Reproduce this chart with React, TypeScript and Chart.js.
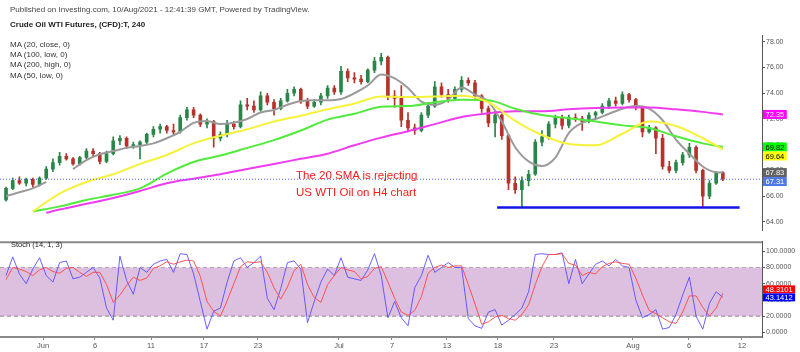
import React, { useEffect, useRef } from "react";
import { Chart, registerables } from "chart.js";

Chart.register(...registerables);

// ---------- DATA ----------
// 4H-style candles, index 0 .. 107
const opens = [
  65.7, 66.6, 67.2, 67.0, 67.3, 66.9, 67.4, 68.1, 68.6, 69.1,
  68.9, 68.5, 69.0, 69.5, 69.3, 68.7, 69.3, 70.3, 70.5, 69.9,
  70.0, 70.2, 70.8, 71.2, 71.4, 71.1, 71.0, 72.1, 72.7, 72.3,
  71.6, 71.8, 70.5, 70.8, 71.6, 71.4, 73.1, 73.0, 72.7, 73.8,
  73.3, 72.8, 73.4, 74.0, 74.3, 73.4, 73.0, 73.3, 73.8, 74.4,
  74.1, 75.7, 75.2, 75.1, 74.9, 75.8, 76.5, 76.8, 73.8, 73.6,
  71.9, 71.3, 71.1, 72.3, 73.0, 74.5, 73.9, 73.6, 74.3, 75.0,
  74.8, 73.8, 72.8, 71.7, 72.3, 70.7, 67.0, 66.5, 67.2, 67.7,
  70.2, 70.6, 71.6, 72.1, 71.5, 72.1, 72.0, 71.8, 72.3, 72.5,
  73.0, 73.4, 73.2, 73.9, 73.5, 72.9, 71.0, 71.3, 70.5, 68.3,
  68.0, 68.6, 69.2, 69.8, 68.0, 66.0, 67.0, 67.8,
];
const highs = [
  66.7, 67.4, 67.5, 67.4, 67.4, 67.5, 68.3, 68.9, 69.4, 69.3,
  69.0, 69.1, 69.7, 69.7, 69.4, 69.5, 70.6, 70.7, 70.6, 70.2,
  70.3, 70.9, 71.4, 71.6, 71.5, 71.6, 72.3, 72.9, 72.9, 72.4,
  72.0, 71.9, 71.0, 71.9, 71.8, 73.4, 73.6, 73.4, 74.1, 74.0,
  73.5, 73.6, 74.3, 74.5, 74.4, 73.6, 73.5, 74.0, 74.6, 74.6,
  76.1, 75.9, 75.6, 75.4, 75.9, 76.8, 77.1, 76.9, 74.2, 74.6,
  72.5, 71.6, 72.5, 73.3, 74.9, 74.8, 74.3, 74.5, 75.3, 75.2,
  75.0, 73.9, 73.0, 72.6, 72.4, 70.8, 67.5, 67.5, 68.0, 70.4,
  71.1, 71.8, 72.3, 72.3, 72.3, 72.4, 72.2, 72.5, 72.6, 73.2,
  73.6, 73.7, 74.1, 74.0, 73.6, 73.0, 71.5, 71.4, 70.8, 68.7,
  68.8, 69.4, 70.1, 69.9, 68.1, 67.2, 67.9, 67.9,
];
const lows = [
  65.6, 66.5, 66.9, 66.8, 66.7, 66.8, 67.3, 67.9, 68.4, 68.8,
  68.4, 68.4, 68.9, 69.1, 68.5, 68.6, 69.2, 70.0, 69.7, 69.7,
  68.9, 70.0, 70.6, 70.9, 70.9, 70.8, 70.9, 71.9, 72.1, 71.4,
  71.3, 69.8, 70.3, 70.6, 71.2, 71.3, 72.7, 72.5, 72.6, 73.1,
  72.3, 72.7, 73.3, 73.8, 73.2, 72.8, 72.9, 73.1, 73.6, 73.9,
  73.9, 74.9, 74.8, 74.7, 74.8, 75.6, 76.2, 73.5, 72.9, 71.4,
  71.0, 70.8, 71.0, 72.1, 72.9, 73.7, 73.3, 73.5, 74.1, 74.6,
  73.6, 72.5, 71.4, 70.6, 70.4, 66.5, 66.2, 65.1, 66.8, 67.6,
  69.9, 70.4, 71.3, 71.2, 71.3, 71.8, 71.1, 71.7, 72.0, 72.4,
  72.8, 73.0, 73.1, 73.3, 72.7, 70.6, 70.9, 69.3, 68.1, 67.8,
  67.8, 68.4, 69.0, 67.8, 65.2, 65.8, 66.9, 67.2,
];
const closes = [
  66.6, 67.2, 67.0, 67.3, 66.9, 67.4, 68.1, 68.6, 69.1, 68.9,
  68.5, 69.0, 69.5, 69.3, 68.7, 69.3, 70.3, 70.5, 69.9, 70.0,
  70.2, 70.8, 71.2, 71.4, 71.1, 71.0, 72.1, 72.7, 72.3, 71.6,
  71.8, 70.5, 70.8, 71.6, 71.4, 73.1, 73.0, 72.7, 73.8, 73.3,
  72.8, 73.4, 74.0, 74.3, 73.4, 73.0, 73.3, 73.8, 74.4, 74.1,
  75.7, 75.2, 75.1, 74.9, 75.8, 76.5, 76.8, 73.8, 73.6, 71.9,
  71.3, 71.1, 72.3, 73.0, 74.5, 73.9, 73.6, 74.3, 75.0, 74.8,
  73.8, 72.8, 71.7, 72.3, 70.7, 67.0, 66.5, 67.2, 67.7, 70.2,
  70.6, 71.6, 72.1, 71.5, 72.1, 72.0, 71.8, 72.3, 72.5, 73.0,
  73.4, 73.2, 73.9, 73.5, 72.9, 71.0, 71.3, 70.5, 68.3, 68.0,
  68.6, 69.2, 69.8, 68.0, 66.0, 67.0, 67.8, 67.31,
];

// MA (20, close) sampled every second candle (null = gap in the line)
const ma20Idx = [
  0, 2, 4, 6, 8, 10, 12, 14, 16, 18, 20, 22, 24, 26, 28, 30, 32, 34, 36, 38,
  40, 42, 44, 46, 48, 50, 52, 54, 56, 58, 60, 62, 64, 66, 68, 70, 72, 74, 76, 78,
  80, 82, 84, 86, 88, 90, 92, 94, 96, 98, 100, 102, 104, 106, 107,
];
const ma20Close = [
  66.0, 66.3, 66.6, 67.1, null, 68.1, 68.8, 69.25, 69.5, 69.75,
  69.9, 70.1, 70.5, 71.0, 71.7, 71.85, 71.6, 71.7, 72.0, 72.5,
  72.7, 73.1, 73.4, 73.45, 73.45, 73.55, 74.0, 74.6, 75.45, 75.15,
  74.4, 73.35, 73.1, 73.5, 74.45, 73.9, 73.35, 71.8, 69.8, 68.7,
  68.35, 69.0, 70.9, 71.7, 72.0, 72.4, 72.8, 73.0, 72.8, 71.9,
  70.4, 69.3, 68.3, 67.85, 67.83,
];

// Slower MAs sampled every fourth candle
const slowIdx = [
  4, 8, 12, 16, 20, 24, 28, 32, 36, 40, 44, 48, 52, 56, 60, 64, 68, 72, 76, 80,
  84, 88, 92, 96, 100, 104, 107,
];
const ma50Low = [
  64.8, 66.2, 67.1, 67.7, 68.5, 69.2, 70.1, 70.7, 71.2, 71.8,
  72.25, 72.75, 73.2, 73.75, 73.7, 73.75, 73.8, 73.3, 71.85, 70.75,
  70.05, 69.95, 70.85, 71.8, 71.45, 70.5, 69.64,
];
const ma100Low = [
  64.8, 65.2, 65.7, 66.1, 66.6, 67.75, 68.65, 69.15, 69.75, 70.35,
  71.1, 71.95, 72.4, 72.95, 73.0, 73.3, 73.5, 73.45, 72.8, 72.3,
  72.05, 71.8, 71.5, 71.3, 70.65, 70.1, 69.82,
];
const ma200Idx = [
  6, 8, 12, 16, 20, 24, 28, 32, 36, 40, 44, 48, 52, 56, 60, 64, 68, 72, 76, 80,
  84, 88, 92, 96, 100, 104, 107,
];
const ma200High = [
  64.7, 64.95, 65.4, 65.85, 66.4, 67.0, 67.35, 67.7, 68.1, 68.5,
  68.9, 69.3, 69.95, 70.55, 71.05, 71.6, 72.15, 72.45, 72.6, 72.6,
  72.75, 72.85, 72.9, 72.9, 72.75, 72.55, 72.35,
];

// Support level drawn on the chart
const supportLevel = 65.12;
const supportFrom = 73.3;
const supportTo = 109.5;

// Stochastic (14, 1, 3), one value per candle
const stochK = [
  70, 93, 72, 60, 78, 92, 70, 62, 86, 88,
  66, 68, 74, 80, 67, 30, 15, 94, 64, 47,
  80, 74, 84, 88, 90, 74, 97, 96, 72, 38,
  4, 26, 30, 62, 88, 92, 80, 86, 94, 42,
  28, 54, 86, 88, 78, 12, 38, 62, 78, 70,
  92, 68, 66, 64, 77, 97, 70, 18, 38, 18,
  8, 55, 70, 95, 74, 80, 86, 80, 80, 17,
  8, 5, 25, 28, 9, 15, 22, 30, 50, 96,
  97, 96, 96, 98, 60, 90, 60, 72, 84, 88,
  82, 90, 82, 80, 40, 18, 22, 28, 4, 6,
  22, 46, 68, 20, 4, 36, 50, 43.1412,
];
const stochD = [
  65, 80, 78, 75, 70, 77, 80, 75, 73, 79,
  80, 74, 69, 74, 74, 59, 37, 46, 58, 68,
  64, 67, 79, 82, 87, 84, 87, 89, 88, 69,
  38, 26, 20, 39, 60, 81, 87, 86, 87, 74,
  55, 41, 56, 76, 84, 59, 43, 37, 59, 70,
  80, 77, 75, 66, 69, 79, 81, 62, 42, 25,
  21, 27, 44, 73, 80, 83, 80, 82, 82, 59,
  35, 10, 13, 19, 21, 17, 15, 22, 34, 59,
  81, 96, 96, 97, 85, 83, 70, 74, 72, 81,
  85, 87, 85, 84, 67, 46, 27, 23, 18, 13,
  11, 25, 45, 45, 31, 20, 30, 48.3101,
];

// Axis ticks
const priceTicks = [64, 66, 68, 70, 72, 74, 76, 78];
const stochTicks = [0, 20, 40, 60, 80, 100];
const stochBands = [80, 20];
const dateTickLabels = ["Jun", "6", "11", "17", "23", "Jul", "7", "13", "18", "23", "Aug", "6", "12"];
const dateTickPos = [5.52, 13.28, 21.64, 29.55, 37.61, 49.7, 57.61, 65.82, 73.43, 81.79, 93.58, 101.94, 109.85];

// ---------- STYLE / LAYOUT ----------
const FONT = "'Liberation Sans', Arial, Helvetica, sans-serif";
const X_MIN = -0.9;
const X_MAX = 112.84;
const AXIS_W = 38;
const UP = "#2a8548";
const DOWN = "#b5332b";
const C_MA20 = "#9a9a9a";
const C_MA50 = "#f6f23a";
const C_MA100 = "#52ea3c";
const C_MA200 = "#ef3cef";

const last = (a: any[]) => a[a.length - 1];

const tagsPlugin = {
  id: "tags",
  afterDraw(chart: any, _args: any, opts: any) {
    const tags = (opts && opts.tags) || [];
    if (!tags.length) return;
    const ctx = chart.ctx;
    const ys = chart.scales.y;
    const left = chart.chartArea.right;
    const h = opts.height || 9;
    const items = tags.map((t: any) => ({ ...t, y: ys.getPixelForValue(t.value) }));
    items.sort((a: any, b: any) => a.y - b.y);
    if (opts.push === "up") {
      for (let i = items.length - 2; i >= 0; i--) {
        if (items[i].y > items[i + 1].y - h) items[i].y = items[i + 1].y - h;
      }
    } else {
      for (let i = 1; i < items.length; i++) {
        if (items[i].y < items[i - 1].y + h) items[i].y = items[i - 1].y + h;
      }
    }
    ctx.save();
    ctx.font = `7.5px ${FONT}`;
    ctx.textBaseline = "middle";
    ctx.textAlign = "left";
    for (const it of items) {
      const w = ctx.measureText(it.text).width + 5;
      ctx.fillStyle = it.bg;
      ctx.fillRect(left + 1, it.y - h / 2, w, h);
      ctx.fillStyle = it.fg;
      ctx.fillText(it.text, left + 3.5, it.y + 0.5);
    }
    ctx.restore();
  },
};

const panelTopPlugin = {
  id: "panelTop",
  afterDraw(chart: any) {
    const { ctx, chartArea } = chart;
    ctx.save();
    ctx.strokeStyle = "#8a8a8a";
    ctx.lineWidth = 2;
    ctx.beginPath();
    ctx.moveTo(0, chartArea.top + 1);
    ctx.lineTo(chartArea.right, chartArea.top + 1);
    ctx.stroke();
    ctx.restore();
  },
};

function yAxis(min: number, max: number, ticks: number[], digits: number) {
  return {
    type: "linear",
    position: "right",
    min,
    max,
    afterBuildTicks: (s: any) => {
      s.ticks = ticks.map((v) => ({ value: v }));
    },
    afterFit: (s: any) => {
      s.width = AXIS_W;
    },
    ticks: {
      callback: (v: any) => Number(v).toFixed(digits),
      font: { size: 7, family: FONT },
      color: "#555",
      padding: 1,
    },
    grid: { drawOnChartArea: false, drawTicks: true, tickLength: 3, color: "#555" },
    border: { display: true, color: "#555", width: 1 },
  };
}

function lineDs(idx: number[], vals: (number | null)[], color: string, width: number) {
  return {
    type: "line",
    data: idx.map((x, i) => ({ x, y: vals[i] })),
    borderColor: color,
    borderWidth: width,
    pointRadius: 0,
    fill: false,
    cubicInterpolationMode: "monotone",
    spanGaps: false,
    order: 1,
  };
}

export default function App() {
  const priceRef = useRef<HTMLCanvasElement>(null);
  const stochRef = useRef<HTMLCanvasElement>(null);

  useEffect(() => {
    const n = closes.length;
    const ix = Array.from({ length: n }, (_, i) => i);
    const colors = ix.map((i) => (closes[i] >= opens[i] ? UP : DOWN));

    const priceChart = new Chart(priceRef.current as HTMLCanvasElement, {
      type: "line",
      data: {
        datasets: [
          {
            type: "bar",
            data: ix.map((i) => ({ x: i, y: [lows[i], highs[i]] })),
            backgroundColor: colors,
            barThickness: 1,
            grouped: false,
            borderWidth: 0,
            order: 3,
          },
          {
            type: "bar",
            data: ix.map((i) => ({ x: i, y: [opens[i], closes[i]] })),
            backgroundColor: colors,
            barThickness: 3,
            minBarLength: 1,
            grouped: false,
            borderWidth: 0,
            order: 2,
          },
          lineDs(slowIdx, ma50Low, C_MA50, 2),
          lineDs(slowIdx, ma100Low, C_MA100, 2),
          lineDs(ma200Idx, ma200High, C_MA200, 2),
          lineDs(ma20Idx, ma20Close, C_MA20, 2),
          {
            type: "line",
            data: [
              { x: X_MIN, y: last(closes) },
              { x: X_MAX, y: last(closes) },
            ],
            borderColor: "#4a68f0",
            borderWidth: 1,
            borderDash: [1, 2],
            pointRadius: 0,
            fill: false,
            order: 0,
          },
          {
            type: "line",
            data: [
              { x: supportFrom, y: supportLevel },
              { x: supportTo, y: supportLevel },
            ],
            borderColor: "#1414e6",
            borderWidth: 2.5,
            pointRadius: 0,
            fill: false,
            order: 0,
          },
        ] as any,
      },
      options: {
        animation: false,
        responsive: false,
        events: [],
        layout: { padding: { top: 35, left: 0, right: 0, bottom: 0 } },
        plugins: {
          legend: { display: false },
          tooltip: { enabled: false },
          tags: {
            push: "down",
            height: 9,
            tags: [
              { value: last(ma200High), text: last(ma200High).toFixed(2), bg: "#ff00ff", fg: "#ffffff" },
              { value: last(ma100Low), text: last(ma100Low).toFixed(2), bg: "#00ff00", fg: "#000000" },
              { value: last(ma50Low), text: last(ma50Low).toFixed(2), bg: "#ffff00", fg: "#000000" },
              { value: last(ma20Close), text: last(ma20Close).toFixed(2), bg: "#626262", fg: "#ffffff" },
              { value: last(closes), text: last(closes).toFixed(2), bg: "#4d79e6", fg: "#ffffff" },
            ],
          },
        } as any,
        scales: {
          x: { type: "linear", min: X_MIN, max: X_MAX, display: false, offset: false },
          y: yAxis(63.3, 78.53, priceTicks, 2),
        } as any,
      },
      plugins: [tagsPlugin],
    } as any);

    const stochChart = new Chart(stochRef.current as HTMLCanvasElement, {
      type: "line",
      data: {
        datasets: [
          {
            data: [
              { x: X_MIN, y: stochBands[0] },
              { x: X_MAX, y: stochBands[0] },
            ],
            borderColor: "#8c8c8c",
            borderWidth: 1,
            borderDash: [4, 3],
            pointRadius: 0,
            fill: false,
            order: 5,
          },
          {
            data: [
              { x: X_MIN, y: stochBands[1] },
              { x: X_MAX, y: stochBands[1] },
            ],
            borderColor: "#8c8c8c",
            borderWidth: 1,
            borderDash: [4, 3],
            pointRadius: 0,
            fill: 0,
            backgroundColor: "rgb(221,192,224)",
            order: 4,
          },
          {
            data: ix.map((i) => ({ x: i, y: stochK[i] })),
            borderColor: "rgba(80,70,255,0.85)",
            borderWidth: 1,
            pointRadius: 0,
            fill: false,
            order: 2,
          },
          {
            data: ix.map((i) => ({ x: i, y: stochD[i] })),
            borderColor: "rgba(255,70,70,0.9)",
            borderWidth: 1,
            pointRadius: 0,
            fill: false,
            order: 1,
          },
        ] as any,
      },
      options: {
        animation: false,
        responsive: false,
        events: [],
        layout: { padding: 0 },
        plugins: {
          legend: { display: false },
          tooltip: { enabled: false },
          tags: {
            push: "up",
            height: 8,
            tags: [
              { value: last(stochD), text: last(stochD).toFixed(4), bg: "#ff0000", fg: "#ffffff" },
              { value: last(stochK), text: last(stochK).toFixed(4), bg: "#0000ff", fg: "#ffffff" },
            ],
          },
        } as any,
        scales: {
          x: {
            type: "linear",
            min: X_MIN,
            max: X_MAX,
            offset: false,
            position: "bottom",
            afterBuildTicks: (s: any) => {
              s.ticks = dateTickPos.map((v) => ({ value: v }));
            },
            afterFit: (s: any) => {
              s.height = 15;
            },
            ticks: {
              autoSkip: false,
              maxRotation: 0,
              callback: (_v: any, i: number) => dateTickLabels[i],
              font: { size: 7.5, family: FONT },
              color: "#555",
              padding: 1,
            },
            grid: { drawOnChartArea: false, drawTicks: true, tickLength: 3, color: "#8a8a8a" },
            border: { display: true, color: "#8a8a8a", width: 2 },
          },
          y: yAxis(-5.7, 112.4, stochTicks, 4),
        } as any,
      },
      plugins: [tagsPlugin, panelTopPlugin],
    } as any);

    return () => {
      priceChart.destroy();
      stochChart.destroy();
    };
  }, []);

  const txt = (left: number, top: number, size: number, extra: any = {}) => ({
    position: "absolute" as const,
    left,
    top,
    fontSize: size,
    lineHeight: `${size + 1}px`,
    whiteSpace: "nowrap" as const,
    fontFamily: FONT,
    color: "#333",
    pointerEvents: "none" as const,
    ...extra,
  });

  return (
    <div
      style={{
        position: "absolute",
        left: 0,
        top: 0,
        width: 800,
        height: 352,
        background: "#fff",
        overflow: "hidden",
      }}
    >
      <canvas ref={priceRef} width={800} height={236} style={{ position: "absolute", left: 0, top: 0 }} />
      <canvas ref={stochRef} width={800} height={116} style={{ position: "absolute", left: 0, top: 236 }} />
      <div style={txt(10, 5, 8, { color: "#444" })}>
        Published on Investing.com, 10/Aug/2021 - 12:41:39 GMT, Powered by TradingView.
      </div>
      <div style={txt(10, 20, 8, { fontWeight: "bold", color: "#222" })}>Crude Oil WTI Futures, (CFD):T, 240</div>
      <div style={txt(10, 40, 8)}>MA (20, close, 0)</div>
      <div style={txt(10, 50, 8)}>MA (100, low, 0)</div>
      <div style={txt(10, 60, 8)}>MA (200, high, 0)</div>
      <div style={txt(10, 70.5, 8)}>MA (50, low, 0)</div>
      <div style={txt(296, 169, 11.5, { color: "#f01c1c" })}>The 20 SMA is rejecting</div>
      <div style={txt(296, 185.5, 11.5, { color: "#f01c1c" })}>US WTI Oil on H4 chart</div>
      <div style={txt(11, 241, 7.5, { color: "#222" })}>Stoch (14, 1, 3)</div>
    </div>
  );
}
